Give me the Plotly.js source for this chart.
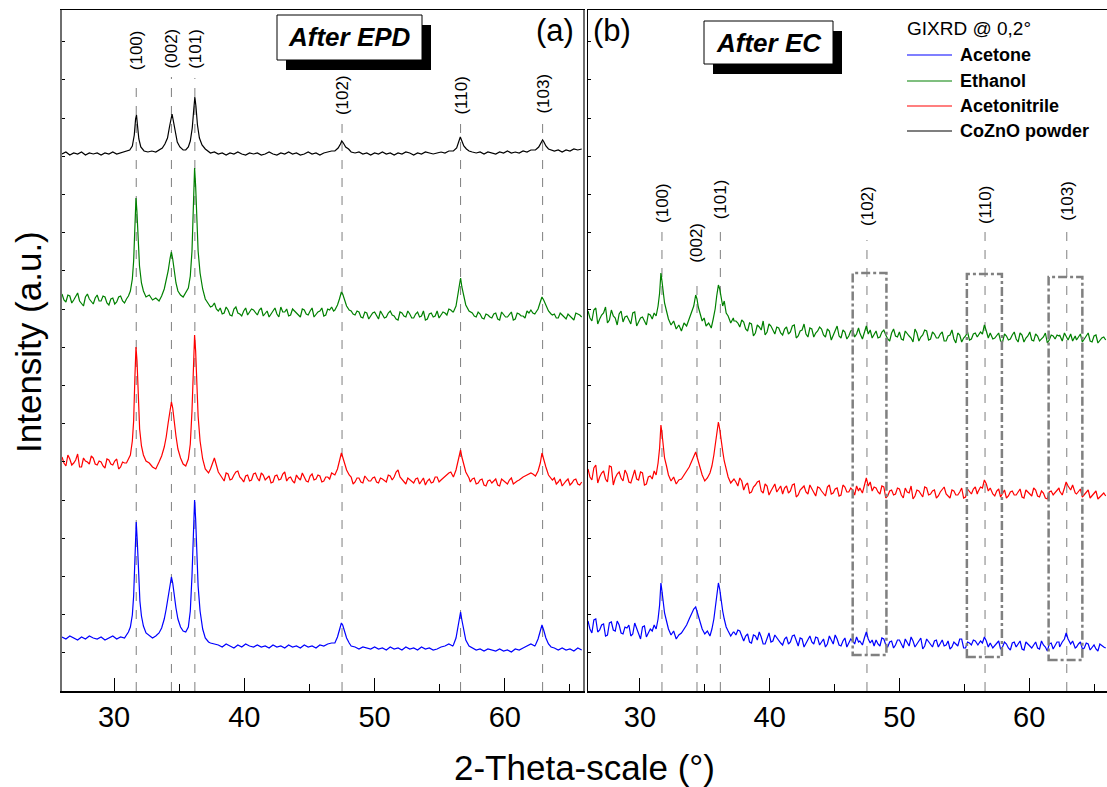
<!DOCTYPE html>
<html><head><meta charset="utf-8">
<script src="https://cdn.plot.ly/plotly-3.0.1.min.js"></script>
<style>html,body{margin:0;padding:0;background:#fff}#chart{width:1107px;height:787px}</style>
</head><body><div id="chart"></div>
<script>
// ---- measurement grids (2-theta, degrees) ----
const gridStart = 26, gridStep = 0.3;      // main grid
const midStart = 26.15;                     // interleaved grid (same step)

// ---- After EPD (panel a) baselines, intensity a.u. on the main grid ----
const powderEPDBase = [537,539,536,538,537,539,536,538,537,538,
 536,538,537,539,537,538,539,540,540,540,
 540,540,540,540,540,540,540,540,540,540,
 540,540,540,540,540,540,540,540,538,539,
 537,538,536,538,537,539,537,536,538,537,
 538,536,537,539,537,536,538,537,539,537,
 538,536,537,539,537,538,536,538,539,540,
 540,540,540,540,539,538,539,537,538,536,
 538,537,539,537,538,536,538,537,539,538,
 536,538,537,539,538,537,538,539,538,540,
 540,540,540,540,540,539,538,539,537,539,
 538,537,539,538,540,538,539,538,540,539,
 541,541,541,541,541,541,540,541,539,541,
 540,542,541,542];
const ethanolEPDBase = [397,389,395,391,398,388,394,392,387,396,
 390,394,386,393,389,395,388,392,392,392,
 392,392,392,392,392,392,392,392,392,392,
 392,392,392,392,392,392,392,392,384,388,
 380,377,384,376,382,378,375,383,379,381,
 376,383,378,374,381,377,384,379,375,382,
 378,374,381,376,383,377,380,375,382,384,
 380,380,380,380,380,376,379,373,378,375,
 379,372,377,374,380,375,371,378,374,377,
 373,379,375,371,377,374,380,376,378,382,
 379,379,379,379,379,378,374,377,372,376,
 373,378,371,376,374,379,372,377,375,380,
 381,377,377,377,377,377,377,373,376,372,
 375,371,377,374];
const ethanolEPDMid = [391,396,388,394,390,385,397,389,393,390,
 395,388,392,387,394,390,393,392,392,392,
 392,392,392,392,392,392,392,392,392,392,
 392,392,392,392,392,392,392,392,385,382,
 383,378,381,375,384,377,380,376,382,378,
 381,375,380,377,383,374,379,382,376,380,
 375,382,377,380,374,379,383,376,381,380,
 380,380,380,380,377,380,374,379,372,378,
 375,380,373,378,376,372,379,375,380,373,
 377,374,380,372,378,375,373,379,376,381,
 380,380,380,380,379,375,379,373,377,374,
 377,372,379,374,376,371,378,375,373,378,
 378,377,377,377,377,376,373,378,374,377,
 373,378,376];
const acetonitrileEPDBase = [234,225,232,228,237,224,230,227,233,226,
 229,223,231,226,232,224,228,226,226,226,
 226,226,226,226,226,226,226,226,226,226,
 226,226,226,226,226,226,226,226,222,233,
 219,213,218,211,216,220,212,215,210,217,
 213,218,211,215,209,216,212,219,213,210,
 216,211,214,209,217,212,215,210,214,218,
 214,214,214,214,214,209,213,208,212,210,
 214,208,212,209,215,214,221,212,207,211,
 208,213,210,206,212,209,214,211,215,218,
 214,214,214,214,214,212,207,211,206,210,
 208,212,205,210,207,213,209,211,214,216,
 218,215,215,215,215,215,213,209,205,210,
 206,211,207,209];
const acetonitrileEPDMid = [228,236,226,231,224,233,229,235,227,230,
 225,232,227,230,222,229,226,226,226,226,
 226,226,226,226,226,226,226,226,226,226,
 226,226,226,226,226,226,226,226,228,226,
 216,210,217,212,219,214,209,216,211,218,
 210,216,213,208,215,211,217,210,214,208,
 213,218,210,215,211,216,209,214,212,217,
 214,214,214,214,207,213,209,215,210,213,
 209,213,210,216,211,219,214,209,213,210,
 212,207,213,210,208,214,209,213,216,219,
 214,214,214,214,209,213,208,212,205,211,
 210,206,212,208,211,207,210,213,215,217,
 217,215,215,215,215,211,207,212,208,212,
 208,212,206];
const acetoneEPDBase = [54,52,55,53,51,54,52,55,53,52,
 54,51,53,55,52,54,53,55,55,55,
 53,53,53,53,53,53,53,53,53,53,
 53,53,53,53,53,53,53,53,48,47,
 46,44,47,45,43,46,44,47,45,44,
 46,44,45,43,46,44,45,43,46,44,
 45,43,46,44,45,43,46,45,47,48,
 45,45,45,45,45,44,42,44,43,42,
 44,42,43,41,44,42,43,41,44,42,
 43,41,44,42,43,41,42,44,45,47,
 45,45,45,45,45,43,41,42,40,42,
 41,40,42,40,41,39,42,41,43,45,
 47,45,45,45,45,45,43,41,43,41,
 42,40,43,41];

// ---- After EPD peak regions (2-theta, intensity pairs) ----
const powderEPDPeaks = [
 [30.95,540, 31.2,541, 31.4,545, 31.55,556, 31.65,572, 31.72,576, 31.8,565, 31.9,552, 32.05,544, 32.3,540, 32.6,539, 32.9,540, 33.2,539, 33.5,541, 33.7,543, 33.9,547, 34.1,553, 34.25,564, 34.38,574, 34.45,577, 34.55,570, 34.7,557, 34.85,549, 35.05,544, 35.3,541, 35.5,541, 35.7,544, 35.85,550, 36.0,563, 36.12,582, 36.2,594, 36.28,585, 36.4,566, 36.55,553, 36.75,546, 37.0,542, 37.25,540],
 [46.95,540, 47.2,543, 47.38,547, 47.48,550, 47.6,548, 47.78,544, 48.0,542, 48.15,540],
 [56.05,540, 56.3,543, 56.45,548, 56.58,554, 56.7,550, 56.85,545, 57.05,542, 57.25,540],
 [62.35,541, 62.6,544, 62.78,548, 62.9,551, 63.0,549, 63.15,545, 63.35,542, 63.55,541]];
const ethanolEPDPeaks = [
 [30.95,392, 31.1,395, 31.25,400, 31.4,412, 31.5,430, 31.6,465, 31.68,493, 31.75,480, 31.85,450, 31.95,425, 32.1,408, 32.25,400, 32.45,394, 32.7,396, 32.95,391, 33.2,393, 33.45,390, 33.65,395, 33.85,402, 34.0,410, 34.15,420, 34.3,433, 34.4,439, 34.5,432, 34.6,420, 34.75,408, 34.9,400, 35.1,396, 35.3,394, 35.5,398, 35.7,403, 35.85,415, 35.98,440, 36.1,490, 36.18,523, 36.26,505, 36.35,470, 36.45,440, 36.6,418, 36.8,402, 37.0,392, 37.25,387],
 [46.95,381, 47.15,386, 47.3,392, 47.45,399, 47.55,397, 47.7,390, 47.85,385, 48.05,381],
 [56.05,379, 56.25,385, 56.4,396, 56.52,408, 56.6,413, 56.7,404, 56.85,393, 57.0,386, 57.25,380],
 [62.35,378, 62.55,382, 62.72,389, 62.85,394, 62.98,391, 63.15,385, 63.35,380, 63.55,377]];
const acetonitrileEPDPeaks = [
 [30.95,228, 31.1,232, 31.25,236, 31.4,250, 31.5,270, 31.6,315, 31.68,344, 31.76,330, 31.86,290, 31.96,262, 32.1,245, 32.25,236, 32.45,230, 32.7,228, 32.95,224, 33.2,222, 33.45,229, 33.65,235, 33.85,244, 34.0,254, 34.15,268, 34.3,282, 34.4,289, 34.5,283, 34.6,270, 34.75,255, 34.9,242, 35.1,233, 35.3,227, 35.5,225, 35.7,232, 35.85,247, 35.98,280, 36.1,330, 36.18,356, 36.26,340, 36.35,305, 36.45,275, 36.6,250, 36.8,232, 37.0,222, 37.25,218],
 [46.95,216, 47.15,222, 47.3,229, 47.45,238, 47.55,234, 47.7,227, 47.85,221, 48.05,216],
 [56.05,214, 56.25,221, 56.4,230, 56.52,238, 56.6,241, 56.7,234, 56.85,225, 57.0,219, 57.25,213],
 [62.35,215, 62.55,220, 62.72,228, 62.85,238, 62.98,231, 63.15,224, 63.35,216, 63.55,212]];
const acetoneEPDPeaks = [
 [30.95,56, 31.1,59, 31.25,64, 31.4,76, 31.5,95, 31.6,140, 31.7,169, 31.78,150, 31.88,115, 31.98,90, 32.1,75, 32.25,65, 32.45,58, 32.7,55, 32.95,53, 33.2,55, 33.45,58, 33.65,63, 33.85,72, 34.0,82, 34.15,95, 34.3,108, 34.4,114, 34.5,108, 34.6,97, 34.75,83, 34.9,72, 35.1,64, 35.3,60, 35.5,59, 35.7,64, 35.85,80, 35.98,115, 36.1,165, 36.18,191, 36.26,172, 36.35,135, 36.45,105, 36.6,80, 36.8,62, 37.0,53, 37.25,49],
 [46.95,48, 47.15,54, 47.3,61, 47.45,68, 47.55,66, 47.7,59, 47.85,53, 48.05,48],
 [56.05,46, 56.25,53, 56.4,64, 56.52,75, 56.6,79, 56.7,71, 56.85,59, 57.0,51, 57.25,45],
 [62.35,46, 62.55,52, 62.72,60, 62.85,66, 62.98,61, 63.15,53, 63.35,47, 63.55,44]];

// ---- After EC (panel b) baselines ----
const ethanolECBase = [380,370,383,372,378,368,381,373,377,369,
 375,367,379,370,374,366,376,371,371,371,
 370,370,370,370,370,370,370,370,370,370,
 370,370,370,370,370,370,370,370,370,364,
 369,360,367,358,364,370,359,365,357,363,
 356,364,359,366,355,361,357,363,354,360,
 362,354,360,356,365,353,359,355,361,357,
 358,358,358,358,360,354,361,352,358,355,
 359,351,357,353,362,350,356,360,352,357,
 353,359,350,356,352,358,349,355,351,357,
 354,354,354,354,354,355,350,357,351,356,
 352,358,349,355,351,357,350,354,348,356,
 352,355,355,355,355,355,354,349,356,350,
 355,348,353,351];
const ethanolECMid = [373,381,367,376,384,371,375,366,380,374,
 370,378,365,373,369,377,371,371,371,371,
 370,370,370,370,370,370,370,370,370,370,
 370,370,370,370,370,370,370,370,368,371,
 362,368,355,366,361,356,367,360,364,358,
 362,357,365,353,360,367,354,362,358,364,
 356,362,351,359,355,361,352,360,354,363,
 358,358,358,358,353,359,356,350,362,354,
 352,360,355,349,358,354,361,351,359,353,
 357,350,355,361,348,356,353,359,352,358,
 354,354,354,354,353,358,349,355,352,359,
 349,356,353,359,350,355,352,358,351,355,
 356,355,355,355,355,351,357,352,358,349,
 356,351,354];
const acetonitrileECBase = [222,211,226,214,220,209,224,213,219,210,
 217,208,221,211,218,207,215,212,212,212,
 212,212,212,212,212,212,212,212,212,212,
 212,212,212,212,212,212,212,212,209,213,
 201,208,199,206,210,198,205,200,207,202,
 197,205,200,207,196,203,199,206,198,204,
 200,195,206,198,203,196,204,199,201,205,
 201,201,201,201,203,197,204,195,201,197,
 202,193,199,205,195,200,194,203,197,201,
 195,202,197,193,200,196,203,194,199,202,
 197,197,197,197,197,200,194,201,195,200,
 196,202,193,199,195,201,194,198,192,200,
 198,203,198,198,198,198,200,194,199,193,
 198,192,197,195];
const acetonitrileECMid = [214,223,208,218,212,225,206,217,213,221,
 209,216,212,219,206,214,212,212,212,212,
 212,212,212,212,212,212,212,212,212,212,
 212,212,212,212,212,212,212,212,205,210,
 206,198,204,209,200,207,196,203,199,205,
 203,198,206,194,201,205,197,202,195,203,
 198,204,197,202,195,206,199,203,196,200,
 201,201,201,201,199,205,193,200,196,203,
 196,203,198,192,201,197,204,196,200,193,
 199,204,195,201,196,199,193,202,197,204,
 198,198,198,198,195,202,197,193,199,196,
 199,194,201,197,203,195,200,193,199,196,
 201,198,198,198,198,197,202,196,201,195,
 200,194,198];
const acetoneECBase = [70,58,72,61,67,56,69,60,66,57,
 63,55,68,58,64,54,62,59,59,59,
 59,59,59,59,59,59,59,59,59,59,
 59,59,59,59,59,59,59,59,56,60,
 50,57,48,55,59,47,53,49,56,51,
 46,54,49,56,45,52,48,55,47,53,
 49,44,55,47,52,45,53,48,50,54,
 48,48,48,48,51,45,52,44,50,46,
 51,43,48,54,44,49,42,52,46,50,
 44,51,46,42,49,45,52,43,48,51,
 46,46,46,46,46,48,42,49,43,48,
 44,50,41,47,43,49,42,46,40,48,
 46,49,46,46,46,46,47,42,48,41,
 46,40,45,43];
const acetoneECMid = [62,71,59,66,55,68,61,70,58,64,
 66,57,63,52,65,58,59,59,59,59,
 59,59,59,59,59,59,59,59,59,59,
 59,59,59,59,59,59,59,59,61,55,
 55,49,56,51,54,47,58,50,53,48,
 52,47,55,50,53,44,51,49,54,46,
 52,47,51,56,46,50,44,52,47,49,
 48,48,48,48,47,53,46,49,43,51,
 47,52,45,50,47,53,45,49,44,51,
 48,45,50,44,47,52,43,49,46,50,
 46,46,46,46,45,50,44,47,41,49,
 47,42,49,45,46,43,50,44,47,42,
 49,46,46,46,46,44,49,43,47,44,
 42,47,44];

// ---- After EC peak regions ----
const ethanolECPeaks = [
 [30.95,372, 31.1,378, 31.25,375, 31.4,385, 31.52,398, 31.62,418, 31.7,410, 31.8,400, 31.9,388, 32.05,380, 32.2,372, 32.4,366, 32.6,370, 32.8,362, 33.0,366, 33.2,360, 33.4,368, 33.6,365, 33.8,372, 34.0,378, 34.15,385, 34.3,396, 34.4,392, 34.5,384, 34.65,376, 34.8,370, 34.95,373, 35.1,365, 35.3,368, 35.5,363, 35.65,372, 35.8,382, 35.92,395, 36.05,406, 36.15,402, 36.25,396, 36.38,385, 36.5,390, 36.65,378, 36.8,375, 37.0,368, 37.2,373],
 [46.95,358, 47.15,352, 47.3,360, 47.45,365, 47.6,357, 47.75,361, 47.9,353, 48.05,357],
 [56.05,355, 56.25,359, 56.4,357, 56.55,366, 56.7,360, 56.85,353, 57.0,358, 57.2,352],
 [62.35,356, 62.55,350, 62.72,358, 62.85,355, 63.0,351, 63.2,357, 63.35,350, 63.55,355]];
const acetonitrileECPeaks = [
 [30.95,212, 31.1,220, 31.25,216, 31.4,228, 31.52,243, 31.62,266, 31.7,258, 31.8,245, 31.9,233, 32.05,225, 32.2,216, 32.4,210, 32.6,214, 32.8,207, 33.0,211, 33.2,212, 33.4,216, 33.6,219, 33.8,224, 34.0,230, 34.15,235, 34.3,239, 34.45,232, 34.6,224, 34.8,216, 35.0,210, 35.2,213, 35.4,218, 35.55,225, 35.7,236, 35.85,250, 35.95,262, 36.05,269, 36.15,262, 36.25,250, 36.38,240, 36.5,230, 36.65,221, 36.8,214, 37.0,208, 37.2,212],
 [46.95,203, 47.15,198, 47.3,206, 47.45,213, 47.6,205, 47.75,209, 47.9,200, 48.05,204],
 [56.05,199, 56.25,204, 56.4,203, 56.55,211, 56.7,207, 56.85,200, 57.0,203, 57.2,197],
 [62.35,200, 62.55,196, 62.72,203, 62.85,209, 63.0,205, 63.2,201, 63.35,206, 63.55,198]];
const acetoneECPeaks = [
 [30.95,60, 31.1,66, 31.25,62, 31.4,72, 31.52,86, 31.62,108, 31.7,100, 31.8,88, 31.9,78, 32.05,70, 32.2,62, 32.4,56, 32.6,60, 32.8,52, 33.0,56, 33.2,58, 33.4,62, 33.6,66, 33.8,72, 34.0,78, 34.15,82, 34.3,84, 34.45,78, 34.6,70, 34.8,62, 35.0,57, 35.2,60, 35.4,55, 35.55,62, 35.7,72, 35.85,88, 35.95,100, 36.05,108, 36.15,102, 36.25,90, 36.38,80, 36.5,72, 36.65,64, 36.8,60, 37.0,55, 37.2,59],
 [46.95,50, 47.15,46, 47.3,53, 47.45,59, 47.6,52, 47.75,48, 47.9,51, 48.05,45],
 [56.05,46, 56.25,50, 56.4,48, 56.55,54, 56.7,50, 56.85,44, 57.0,48, 57.2,43],
 [62.35,44, 62.55,49, 62.72,52, 62.85,58, 63.0,52, 63.2,47, 63.35,50, 63.55,43]];

// ---- reflections / legend ----
const hklPos = [31.7, 34.4, 36.2, 47.5, 56.6, 62.9];
const hklLabels = ['(100)', '(002)', '(101)', '(102)', '(110)', '(103)'];
const seriesNames = ['Acetone', 'Ethanol', 'Acetonitrile', 'CoZnO powder'];
const legendTitle = 'GIXRD @ 0,2°';

// ================= layout configuration =================
const FONT = 'Liberation Sans, Arial, Helvetica, sans-serif';
const M = {l: 62, r: 0, t: 10, b: 96};
const PW = 1107 - M.l - M.r, PH = 787 - M.t - M.b;
const px2x = p => (p - M.l) / PW;
const py2y = p => (M.t + PH - p) / PH;
const colors = {Acetone: '#0000ff', Ethanol: '#008000', Acetonitrile: '#ff0000', 'CoZnO powder': '#000000'};

const epdLineTop = [604, 614, 613, 571, 568, 571];
const epdLabelY = [641, 643, 642, 596, 595, 597];
const ecLineTop = [461, 413, 461, 451, 461, 461];
const ecLabelY = [488, 448, 492, 485, 486, 490];
const ecBoxes = [[46.4, 49.0, 36, 418], [55.2, 57.9, 34, 417], [61.5, 64.1, 31, 414]];
const legendPx = {lineX0: 907, lineX1: 952, textX: 958, titleY: 29, rowY: [55, 81, 106, 131]};

function buildSeries(grids, peakGroups) {
  const wins = peakGroups.map(g => {
    const xs = []; for (let i = 0; i < g.length; i += 2) xs.push(g[i]);
    return [Math.min(...xs), Math.max(...xs)];
  });
  const pts = [];
  grids.forEach(([start, vals]) => vals.forEach((v, i) => {
    const x = +(start + i * gridStep).toFixed(2);
    if (!wins.some(w => x >= w[0] - 1e-6 && x <= w[1] + 1e-6)) pts.push([x, v]);
  }));
  peakGroups.forEach(g => { for (let i = 0; i < g.length; i += 2) pts.push([g[i], g[i + 1]]); });
  pts.sort((a, b) => a[0] - b[0]);
  return {x: pts.map(p => p[0]), y: pts.map(p => p[1])};
}

function trace(grids, peaks, name, xa, ya) {
  const s = buildSeries(grids, peaks);
  return {type: 'scatter', mode: 'lines', x: s.x, y: s.y, name: name, xaxis: xa, yaxis: ya,
    line: {color: colors[name], width: 1.2}, showlegend: false, hoverinfo: 'skip'};
}

const data = [
  trace([[gridStart, powderEPDBase]], powderEPDPeaks, seriesNames[3], 'x', 'y'),
  trace([[gridStart, ethanolEPDBase], [midStart, ethanolEPDMid]], ethanolEPDPeaks, seriesNames[1], 'x', 'y'),
  trace([[gridStart, acetonitrileEPDBase], [midStart, acetonitrileEPDMid]], acetonitrileEPDPeaks, seriesNames[2], 'x', 'y'),
  trace([[gridStart, acetoneEPDBase]], acetoneEPDPeaks, seriesNames[0], 'x', 'y'),
  trace([[gridStart, ethanolECBase], [midStart, ethanolECMid]], ethanolECPeaks, seriesNames[1], 'x2', 'y2'),
  trace([[gridStart, acetonitrileECBase], [midStart, acetonitrileECMid]], acetonitrileECPeaks, seriesNames[2], 'x2', 'y2'),
  trace([[gridStart, acetoneECBase], [midStart, acetoneECMid]], acetoneECPeaks, seriesNames[0], 'x2', 'y2')
];

const shapes = [];
const annotations = [];
hklPos.forEach((p, i) => {
  shapes.push({type: 'line', xref: 'x', yref: 'y', x0: p, x1: p, y0: 0, y1: epdLineTop[i], layer: 'below',
    line: {color: '#7f7f7f', width: 1, dash: 'dash'}});
  shapes.push({type: 'line', xref: 'x2', yref: 'y2', x0: p, x1: p, y0: 0, y1: ecLineTop[i], layer: 'below',
    line: {color: '#7f7f7f', width: 1, dash: 'dash'}});
  annotations.push({xref: 'x', yref: 'y', x: p, y: epdLabelY[i], text: hklLabels[i], textangle: -90, showarrow: false,
    font: {family: FONT, size: 17, color: '#000'}});
  annotations.push({xref: 'x2', yref: 'y2', x: p - (i === 1 ? 0.1 : 0), y: ecLabelY[i], text: hklLabels[i], textangle: -90, showarrow: false,
    font: {family: FONT, size: 17, color: '#000'}});
});
ecBoxes.forEach(b => shapes.push({type: 'rect', xref: 'x2', yref: 'y2', x0: b[0], x1: b[1], y0: b[2], y1: b[3], layer: 'above',
  line: {color: '#808080', width: 2.5, dash: 'dashdot'}, fillcolor: 'rgba(0,0,0,0)'}));
function titleBox(x0, x1, y0, y1, text) {
  shapes.push({type: 'rect', xref: 'paper', yref: 'paper', x0: px2x(x0 + 9), x1: px2x(x1 + 9), y0: py2y(y1 + 10), y1: py2y(y0 + 10),
    fillcolor: '#000', line: {width: 0}, layer: 'above'});
  shapes.push({type: 'rect', xref: 'paper', yref: 'paper', x0: px2x(x0), x1: px2x(x1), y0: py2y(y1), y1: py2y(y0),
    fillcolor: '#fff', line: {color: '#000', width: 1}, layer: 'above'});
  annotations.push({xref: 'paper', yref: 'paper', x: px2x((x0 + x1) / 2), y: py2y((y0 + y1) / 2), text: text, showarrow: false,
    xanchor: 'center', yanchor: 'middle', font: {family: FONT, size: 26, color: '#000', weight: 'bold', style: 'italic'}});
}
titleBox(277, 422, 15, 60, 'After EPD');
titleBox(704, 833, 21, 64, 'After EC');
annotations.push({xref: 'paper', yref: 'paper', x: px2x(555), y: py2y(30), text: '(a)', showarrow: false,
  xanchor: 'center', yanchor: 'middle', font: {family: FONT, size: 31, color: '#000'}});
annotations.push({xref: 'paper', yref: 'paper', x: px2x(612), y: py2y(30), text: '(b)', showarrow: false,
  xanchor: 'center', yanchor: 'middle', font: {family: FONT, size: 31, color: '#000'}});
annotations.push({xref: 'paper', yref: 'paper', x: px2x(584), y: py2y(767), text: '2-Theta-scale (°)', showarrow: false,
  xanchor: 'center', yanchor: 'middle', font: {family: FONT, size: 35, color: '#000'}});
annotations.push({xref: 'paper', yref: 'paper', x: px2x(28), y: py2y(342), text: 'Intensity (a.u.)', textangle: -90, showarrow: false,
  xanchor: 'center', yanchor: 'middle', font: {family: FONT, size: 35, color: '#000'}});

// legend (drawn in panel b)
annotations.push({xref: 'paper', yref: 'paper', x: px2x(legendPx.lineX0 - 2), y: py2y(legendPx.titleY), text: legendTitle, showarrow: false,
  xanchor: 'left', yanchor: 'middle', font: {family: FONT, size: 19, color: '#000'}});
seriesNames.forEach((n, i) => {
  const yy = py2y(legendPx.rowY[i]);
  shapes.push({type: 'line', xref: 'paper', yref: 'paper', x0: px2x(legendPx.lineX0), x1: px2x(legendPx.lineX1), y0: yy, y1: yy,
    line: {color: colors[n], width: 1.2}, layer: 'above'});
  annotations.push({xref: 'paper', yref: 'paper', x: px2x(legendPx.textX), y: yy, text: n, showarrow: false,
    xanchor: 'left', yanchor: 'middle', font: {family: FONT, size: 18, color: '#000', weight: 'bold'}});
});

const xCommon = {range: [26, 66], ticks: 'inside', ticklen: 13, tickwidth: 1, tickcolor: '#000', dtick: 10, tick0: 0,
  minor: {dtick: 5, ticks: 'inside', ticklen: 7, tickcolor: '#000', showgrid: false},
  showline: true, linecolor: '#000', linewidth: 1.5, mirror: true, showgrid: false, zeroline: false,
  tickfont: {family: FONT, size: 29, color: '#000'}, fixedrange: true};
const yCommon = {range: [0, PH], ticks: 'inside', ticklen: 3, tickwidth: 1, tickcolor: '#000', dtick: 38.2, tick0: 0,
  showticklabels: false, showline: true, showgrid: false, zeroline: false, fixedrange: true};

const layout = {
  width: 1107, height: 787, margin: M, paper_bgcolor: '#fff', plot_bgcolor: 'rgba(0,0,0,0)',
  font: {family: FONT, color: '#000'}, showlegend: false,
  xaxis: Object.assign({}, xCommon, {domain: [0, px2x(583)], anchor: 'y'}),
  xaxis2: Object.assign({}, xCommon, {domain: [px2x(588), 1], anchor: 'y2'}),
  yaxis: Object.assign({}, yCommon, {domain: [0, 1], anchor: 'x', linecolor: '#6e6e6e', linewidth: 2, mirror: true}),
  yaxis2: Object.assign({}, yCommon, {domain: [0, 1], anchor: 'x2', linecolor: '#000', linewidth: 1.5, mirror: false}),
  shapes: shapes, annotations: annotations
};

Plotly.newPlot('chart', data, layout, {displayModeBar: false, staticPlot: true});
</script>
</body></html>
